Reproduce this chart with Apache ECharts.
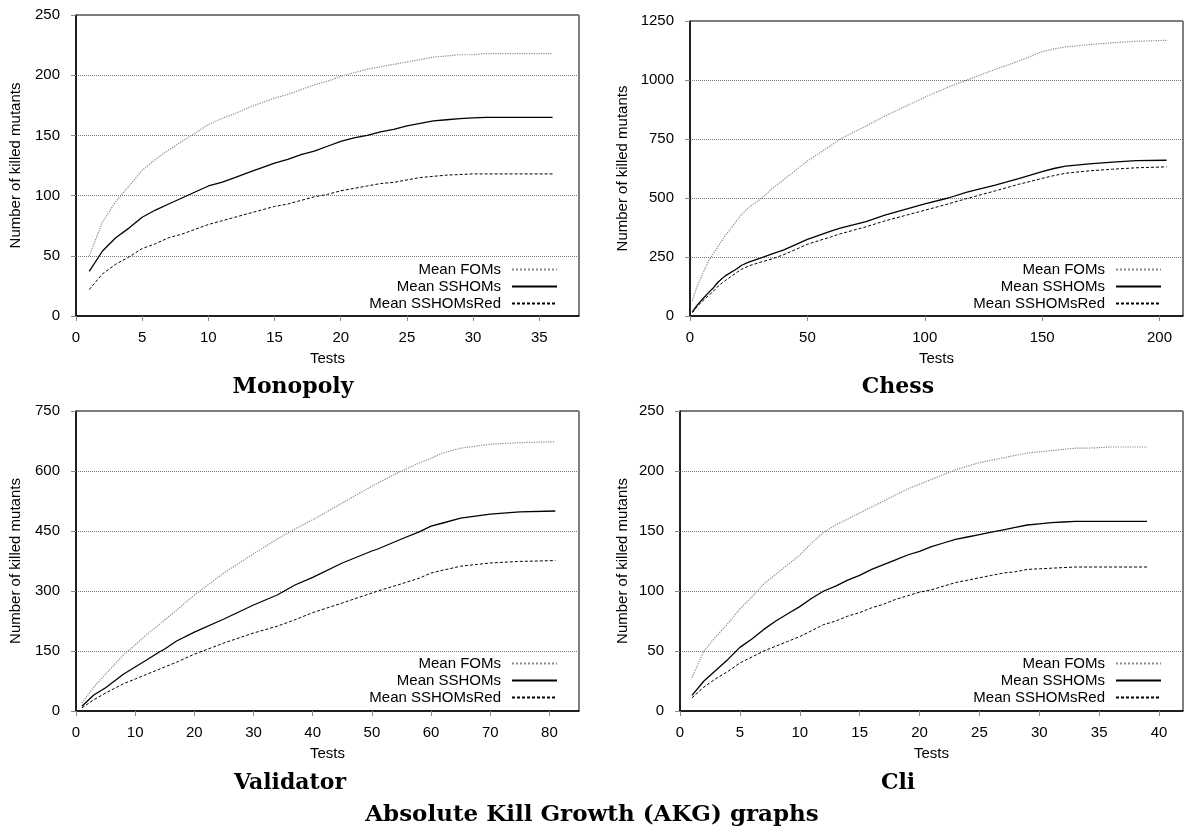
<!DOCTYPE html>
<html>
<head>
<meta charset="utf-8">
<title>Absolute Kill Growth (AKG) graphs</title>
<script src="https://cdn.jsdelivr.net/npm/echarts@6/dist/echarts.min.js"></script>
<style>
  html, body { margin: 0; padding: 0; background: #fff; }
  #chart { width: 1184px; height: 827px; }
</style>
</head>
<body>
<div id="chart"></div>
<script>
// Monopoly: one value per test (tests 1..36)
const monoFoms = [50, 78, 95, 108, 121, 130, 138, 145, 152, 159, 164, 168, 173, 177, 181, 184, 188, 192, 195, 199,
  202, 205, 207, 209, 211, 213, 215, 216, 217, 217, 218, 218, 218, 218, 218, 218];
const monoSshoms = [37, 54, 65, 73, 82, 88, 93, 98, 103, 108, 111, 115, 119, 123, 127, 130, 134, 137, 141, 145,
  148, 150, 153, 155, 158, 160, 162, 163, 164, 164.5, 165, 165, 165, 165, 165, 165];
const monoRed = [22, 35, 43, 49, 56, 60, 65, 68, 72, 76, 79, 82, 85, 88, 91, 93, 96, 99, 101, 104,
  106, 108, 110, 111, 113, 115, 116, 117, 117.5, 118, 118, 118, 118, 118, 118, 118];

// Chess: sampled tests
const chessX = [1, 3, 5, 8, 10, 12, 15, 20, 22, 25, 30, 35, 40, 50, 60, 64, 75, 83, 100, 110, 118, 130, 140, 150, 155, 160, 170, 180, 190, 203];
const chessFoms = [64, 125, 170, 235, 265, 295, 340, 405, 430, 460, 495, 540, 578, 657, 722, 750, 805, 847, 927, 970, 1000, 1045, 1080, 1120, 1132, 1140, 1150, 1158, 1164, 1168];
const chessSshoms = [17, 45, 68, 100, 120, 144, 170, 200, 215, 228, 245, 263, 280, 325, 360, 372, 400, 427, 475, 500, 525, 555, 582, 612, 625, 635, 645, 652, 658, 660];
const chessRed = [14, 40, 60, 88, 105, 127, 150, 185, 198, 212, 228, 242, 260, 304, 335, 348, 378, 403, 448, 475, 498, 530, 558, 583, 595, 605, 615, 622, 628, 632];

// Validator: sampled tests
const valX = [1, 3, 5, 8, 10, 12, 14, 15, 17, 20, 25, 30, 34, 37, 40, 45, 50, 51, 55, 58, 60, 62, 65, 70, 75, 81];
const valFoms = [20, 60, 92, 140, 165, 192, 215, 228, 252, 290, 345, 393, 430, 455, 478, 520, 562, 570, 600, 620, 632, 645, 657, 667, 671, 673];
const valSshoms = [12, 40, 58, 92, 110, 128, 147, 155, 175, 197, 230, 265, 290, 315, 334, 370, 400, 405, 430, 448, 462, 470, 482, 492, 498, 500];
const valRed = [8, 28, 45, 68, 80, 92, 104, 110, 122, 142, 170, 195, 212, 228, 246, 270, 295, 300, 318, 332, 345, 352, 362, 370, 374, 376];

// Cli: one value per test (tests 1..39)
const cliFoms = [28, 50, 62, 73, 85, 95, 106, 114, 122, 130, 140, 149, 155, 160, 165, 170, 175, 180, 185, 189,
  193, 197, 201, 204, 207, 209, 211, 213, 215, 216, 217, 218, 219, 219, 219.5, 220, 220, 220, 220];
const cliSshoms = [13, 25, 34, 43, 53, 60, 68, 75, 81, 87, 94, 100, 104, 109, 113, 118, 122, 126, 130, 133,
  137, 140, 143, 145, 147, 149, 151, 153, 155, 156, 157, 157.5, 158, 158, 158, 158, 158, 158, 158];
const cliRed = [11, 20, 27, 33, 40, 45, 50, 54, 58, 62, 67, 72, 75, 79, 82, 86, 89, 93, 96, 99,
  101, 104, 107, 109, 111, 113, 115, 116, 118, 118.5, 119, 119.5, 120, 120, 120, 120, 120, 120, 120];

const monoXTicks = [0, 5, 10, 15, 20, 25, 30, 35];
const chessXTicks = [0, 50, 100, 150, 200];
const valXTicks = [0, 10, 20, 30, 40, 50, 60, 70, 80];
const cliXTicks = [0, 5, 10, 15, 20, 25, 30, 35, 40];

const names = ["Mean FOMs", "Mean SSHOMs", "Mean SSHOMsRed"];
const panels = ["Monopoly", "Chess", "Validator", "Cli"];

const font = "Liberation Sans";
const serif = "DejaVu Serif";

const perTest = (ys) => ys.map((y, i) => [i + 1, y]);
const zip = (xs, ys) => xs.map((x, i) => [x, ys[i]]);

const grids = [
  { left: 76, top: 15, width: 503, height: 301 },
  { left: 690, top: 21, width: 493, height: 295 },
  { left: 76, top: 411, width: 503, height: 300 },
  { left: 680, top: 411, width: 503, height: 300 },
];

function xAxis(idx, max, ticks) {
  return {
    type: "value",
    gridIndex: idx,
    min: 0,
    max: max,
    name: "Tests",
    nameLocation: "middle",
    nameGap: 35,
    nameTextStyle: { fontFamily: font, fontSize: 15, color: "#000" },
    axisLine: { lineStyle: { color: "#000", width: 1.5 } },
    axisTick: { customValues: ticks, length: 5, lineStyle: { color: "#888" } },
    axisLabel: { customValues: ticks, margin: 14, fontFamily: font, fontSize: 15, color: "#000" },
    splitLine: { show: false },
  };
}

function yAxis(idx, max, step, gap) {
  return {
    type: "value",
    gridIndex: idx,
    min: 0,
    max: max,
    interval: step,
    name: "Number of killed mutants",
    nameLocation: "middle",
    nameRotate: 90,
    nameGap: gap,
    nameTextStyle: { fontFamily: font, fontSize: 15, color: "#000" },
    axisLine: { show: true, lineStyle: { color: "#000", width: 1.5 } },
    axisTick: { show: true, length: 5, lineStyle: { color: "#888" } },
    axisLabel: { margin: 16, fontFamily: font, fontSize: 15, color: "#000", formatter: (v) => String(v) },
    splitLine: { show: true, lineStyle: { color: "#777", type: "dotted", width: 1 } },
  };
}

const styles = [
  { color: "#8a8a8a", width: 1.2, type: "dotted" },
  { color: "#000", width: 1.3, type: "solid" },
  { color: "#000", width: 1, type: [3, 2] },
];

function seriesFor(idx, datas) {
  return datas.map((d, k) => ({
    name: names[k],
    type: "line",
    xAxisIndex: idx,
    yAxisIndex: idx,
    symbol: "none",
    data: d,
    lineStyle: styles[k],
    itemStyle: { color: styles[k].color },
    emphasis: { disabled: true },
    animation: false,
  }));
}

function legendFor(right, top) {
  return {
    data: names,
    orient: "vertical",
    align: "right",
    right: right,
    top: top,
    padding: 0,
    itemWidth: 45,
    itemHeight: 14,
    itemGap: 2,
    itemStyle: { opacity: 0 },
    selectedMode: false,
    textStyle: { fontFamily: font, fontSize: 15, color: "#000", padding: [0, 6, 0, 0] },
  };
}

const series = [].concat(
  seriesFor(0, [perTest(monoFoms), perTest(monoSshoms), perTest(monoRed)]),
  seriesFor(1, [zip(chessX, chessFoms), zip(chessX, chessSshoms), zip(chessX, chessRed)]),
  seriesFor(2, [zip(valX, valFoms), zip(valX, valSshoms), zip(valX, valRed)]),
  seriesFor(3, [perTest(cliFoms), perTest(cliSshoms), perTest(cliRed)])
);

const titlePos = [[293, 387], [898, 387], [290, 783], [898, 783]];
const titleStyle = {
  textAlign: "center",
  textVerticalAlign: "middle",
  fontFamily: serif,
  fontWeight: "bold",
  fontSize: 22,
  fill: "#000",
};
const graphics = panels.map((p, i) => ({
  type: "text",
  x: titlePos[i][0],
  y: titlePos[i][1],
  style: Object.assign({ text: p }, titleStyle),
}));
graphics.push({
  type: "text",
  x: 592,
  y: 815,
  style: Object.assign({ text: "Absolute Kill Growth (AKG) graphs" }, titleStyle, { fontSize: 23 }),
});

const myChart = echarts.init(document.getElementById("chart"));
myChart.setOption({
  animation: false,
  backgroundColor: "#fff",
  grid: grids.map((g) => Object.assign({ show: true, borderColor: "#000", borderWidth: 1, backgroundColor: "transparent" }, g)),
  xAxis: [
    xAxis(0, 38, monoXTicks),
    xAxis(1, 210, chessXTicks),
    xAxis(2, 85, valXTicks),
    xAxis(3, 42, cliXTicks),
  ],
  yAxis: [
    yAxis(0, 250, 50, 53),
    yAxis(1, 1250, 250, 60),
    yAxis(2, 750, 150, 53),
    yAxis(3, 250, 50, 50),
  ],
  legend: [
    legendFor(626, 262),
    legendFor(22, 262),
    legendFor(626, 656),
    legendFor(22, 656),
  ],
  series: series,
  graphic: graphics,
});
</script>
</body>
</html>
